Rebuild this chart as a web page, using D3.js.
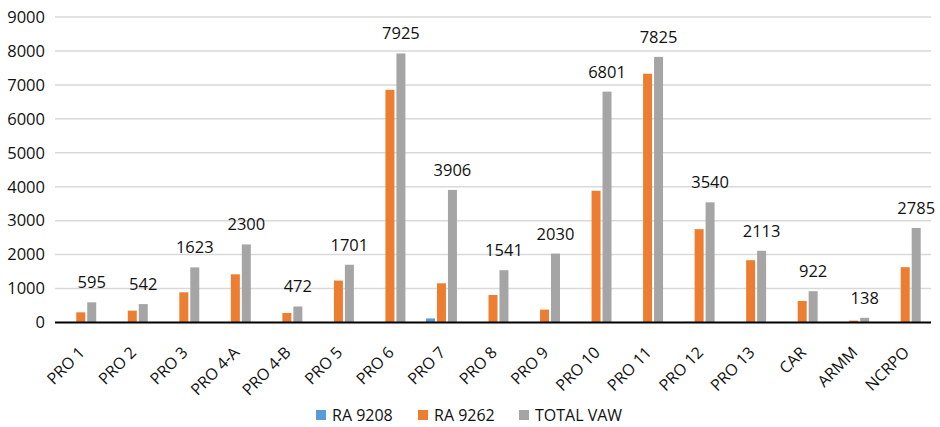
<!DOCTYPE html>
<html>
<head>
<meta charset="utf-8">
<script src="https://cdn.jsdelivr.net/npm/d3@7"></script>
<style>
  body { margin: 0; background: #fff; }
  text { font-family: "Open Sans", "Noto Sans", sans-serif; fill: #111; }
</style>
</head>
<body>
<div id="chart"></div>
<script>
// chart data
const regions = ["PRO 1", "PRO 2", "PRO 3", "PRO 4-A", "PRO 4-B", "PRO 5", "PRO 6", "PRO 7", "PRO 8",
  "PRO 9", "PRO 10", "PRO 11", "PRO 12", "PRO 13", "CAR", "ARMM", "NCRPO"];
const ra9208 = [0, 0, 0, 0, 0, 0, 0, 120, 0, 0, 0, 0, 20, 0, 0, 0, 0];
const ra9262 = [300, 350, 890, 1420, 280, 1235, 6855, 1155, 810, 380, 3880, 7330, 2750, 1835, 635, 55, 1630];
const totalVaw = [595, 542, 1623, 2300, 472, 1701, 7925, 3906, 1541, 2030, 6801, 7825, 3540, 2113, 922, 138, 2785];
const seriesNames = ["RA 9208", "RA 9262", "TOTAL VAW"];
const colors = ["#5b9bd5", "#ed7d31", "#a5a5a5"];
const yTicks = [0, 1000, 2000, 3000, 4000, 5000, 6000, 7000, 8000, 9000];

const W = 940, H = 427;
const margin = { top: 17, right: 9, bottom: 104.5, left: 55 };
const width = W - margin.left - margin.right;
const height = H - margin.top - margin.bottom;

const svg = d3.select("#chart").append("svg")
    .attr("width", W)
    .attr("height", H)
    .append("g")
    .attr("transform", `translate(${margin.left},${margin.top})`);

const x0 = d3.scaleBand().domain(regions).range([0, width]);
const groupW = x0.bandwidth() * 0.6;
const x1 = d3.scaleBand().domain(seriesNames).range([0, groupW]).paddingInner(0.18);
const y = d3.scaleLinear().domain([0, 9000]).range([height, 0]);

// gridlines
svg.append("g")
    .selectAll("line")
    .data(yTicks.slice(1))
    .enter().append("line")
    .attr("x1", 0).attr("x2", width)
    .attr("y1", d => y(d)).attr("y2", d => y(d))
    .style("stroke", "#d9d9d9")
    .style("stroke-width", 1.5);

// y axis labels
const yAxis = d3.axisLeft(y).tickValues(yTicks).tickSize(0).tickPadding(10).tickFormat(d3.format("d"));
svg.append("g")
    .call(yAxis)
    .call(g => g.select(".domain").remove())
    .selectAll("text")
    .style("font-size", "16.5px")
    .style("font-family", "'Open Sans', sans-serif")
    .attr("fill", "#111");

const rows = regions.map((r, i) => ({ region: r, values: [ra9208[i], ra9262[i], totalVaw[i]] }));

const groups = svg.selectAll(".grp")
    .data(rows)
    .enter().append("g")
    .attr("class", "grp")
    .attr("transform", d => `translate(${x0(d.region) + (x0.bandwidth() - groupW) / 2},0)`);

groups.selectAll("rect")
    .data(d => d.values.map((v, k) => ({ key: seriesNames[k], v: v, k: k })))
    .enter().append("rect")
    .attr("x", d => x1(d.key))
    .attr("width", x1.bandwidth())
    .attr("y", d => y(d.v))
    .attr("height", d => height - y(d.v))
    .attr("fill", d => colors[d.k]);

// data labels over total bars
groups.append("text")
    .attr("x", x1("TOTAL VAW") + x1.bandwidth() / 2)
    .attr("y", d => y(d.values[2]) - 14)
    .attr("text-anchor", "middle")
    .style("font-size", "16.5px")
    .text(d => d.values[2]);

// x axis
const xAxis = d3.axisBottom(x0).tickSize(0).tickPadding(0);
svg.append("g")
    .attr("transform", `translate(0,${height})`)
    .call(xAxis)
    .call(g => g.select(".domain").remove())
    .selectAll("text")
    .style("font-size", "16px")
    .style("font-family", "'Open Sans', sans-serif")
    .attr("fill", "#111")
    .attr("text-anchor", "end")
    .attr("dy", "0")
    .attr("transform", "translate(5,31) rotate(-45)");

svg.append("line")
    .attr("x1", 0).attr("x2", width)
    .attr("y1", height).attr("y2", height)
    .style("stroke", "#000")
    .style("stroke-width", 2);

// legend
const legendX = [316, 418, 519];
const legend = d3.select("svg").append("g")
    .selectAll("g")
    .data(seriesNames)
    .enter().append("g")
    .attr("transform", (d, i) => `translate(${legendX[i]},410)`);

legend.append("rect")
    .attr("width", 10).attr("height", 10)
    .attr("fill", (d, i) => colors[i]);

legend.append("text")
    .attr("x", 16)
    .attr("y", 5)
    .attr("dy", "0.35em")
    .style("font-size", "16px")
    .text(d => d);
</script>
</body>
</html>
